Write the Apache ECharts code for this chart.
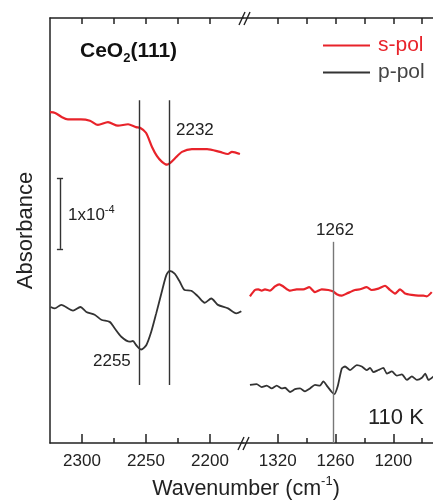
<!DOCTYPE html>
<html><head><meta charset="utf-8">
<script src="https://cdn.jsdelivr.net/npm/echarts@6/dist/echarts.min.js"></script>
<style>html,body{margin:0;padding:0;background:#fff}#c{width:433px;height:502px}</style>
</head><body><div id="c"></div>
<script>
// ---- data (absorbance in units of 1e-4, arbitrary offset) ----
const sPolHighW = [2325,2321,2315.6,2311,2300.8,2293.8,2287.5,2279.7,2271.9,2264,2257.8,2254.7,2250,2245.3,2241.4,2237.5,2233.6,2231.3,2227.3,2221.9,2214.1,2202.3,2192.2,2186,2182.8,2176.6];
const sPolHighA = [4.67,4.66,4.60,4.57,4.57,4.55,4.49,4.53,4.48,4.50,4.46,4.45,4.38,4.18,4.05,3.97,3.93,3.95,4.02,4.11,4.15,4.15,4.11,4.08,4.11,4.08];
const pPolHighW = [2324.5,2321.3,2316.2,2307,2301.3,2296.6,2290.1,2284.9,2278.4,2274.5,2269.3,2262.7,2260.2,2257.6,2253.7,2249.8,2245.9,2242,2238,2234.1,2231.5,2227.6,2223.7,2219.8,2214.6,2209.4,2204.1,2199,2193.8,2185.9,2179.5,2175.5];
const pPolHighA = [1.92,1.90,1.95,1.87,1.92,1.85,1.81,1.74,1.71,1.62,1.50,1.43,1.44,1.38,1.32,1.38,1.57,1.83,2.11,2.37,2.43,2.39,2.28,2.16,2.15,2.07,1.98,2.04,1.95,1.90,1.83,1.86];
const sPolLowW = [1348.8,1343.6,1340.1,1336.6,1333.2,1328,1322.8,1318.3,1314.2,1307.2,1300.3,1293.4,1287.2,1281.3,1274.3,1267.5,1262.3,1258.7,1253.5,1248.3,1239.7,1234.5,1227.6,1222.4,1215.5,1208.6,1203.4,1198.2,1193,1187.8,1180.9,1174,1168.8,1165.3,1160.1];
const sPolLowA = [2.07,2.16,2.17,2.15,2.17,2.15,2.21,2.24,2.21,2.15,2.17,2.17,2.20,2.13,2.17,2.16,2.14,2.10,2.08,2.11,2.16,2.17,2.20,2.16,2.18,2.22,2.16,2.11,2.17,2.11,2.09,2.08,2.08,2.07,2.13];
const pPolLowW = [1348.8,1341.8,1336.6,1331.4,1326.2,1321,1315.8,1312.4,1307.2,1302,1296.8,1291.6,1286.5,1281.3,1276.1,1272.6,1268.5,1263.9,1261.2,1257.7,1253.5,1250.1,1244.9,1237.9,1232.7,1227.6,1224.1,1220.6,1215.5,1210.3,1206.7,1201.5,1196.3,1191.1,1185.9,1180.7,1175.5,1170.3,1166.9,1163.4,1158.2];
const pPolLowA = [0.82,0.83,0.79,0.81,0.77,0.81,0.77,0.78,0.72,0.76,0.77,0.73,0.77,0.82,0.81,0.87,0.80,0.72,0.69,0.80,1.05,1.08,1.03,1.10,1.08,1.03,1.06,1.00,1.03,1.06,0.98,1.01,0.95,0.97,0.89,0.94,0.89,0.92,0.98,0.89,0.94];
const peakLinesHigh = [2255, 2232];
const peakLineLow = 1262;
const ticksHighMajor = [2300, 2250, 2200];
const ticksHighMinor = [2275, 2225];
const ticksLowMajor = [1320, 1260, 1200];
const ticksLowMinor = [1290, 1230, 1170];
const seriesNames = ['s-pol', 'p-pol'];

const pair = (w, a) => w.map((v, i) => [v, a[i]]);
const RED = '#e8232a', DARK = '#333333', AX = '#222222';
const FF = '"Liberation Sans", Arial, sans-serif';

function bottomAxis(grid, min, max, major) {
  return { gridIndex: grid, type: 'value', position: 'bottom', inverse: true, min, max,
    axisLine: { show: true, lineStyle: { color: AX, width: 1.5 } },
    axisTick: { show: true, inside: true, length: 9, customValues: major, lineStyle: { color: AX, width: 1.5 } },
    axisLabel: { show: true, customValues: major, margin: 10, fontSize: 17, color: '#222', fontFamily: FF,
      formatter: v => String(v) },
    splitLine: { show: false } };
}
function minorAxis(grid, min, max, minor) {
  return { gridIndex: grid, type: 'value', position: 'bottom', inverse: true, min, max,
    axisLine: { show: false },
    axisTick: { show: true, inside: true, length: 5, customValues: minor, lineStyle: { color: AX, width: 1.5 } },
    axisLabel: { show: false }, splitLine: { show: false } };
}
function topAxis(grid, min, max, all) {
  return { gridIndex: grid, type: 'value', position: 'top', inverse: true, min, max,
    axisLine: { show: true, lineStyle: { color: AX, width: 1.5 } },
    axisTick: { show: true, inside: true, length: 6, customValues: all, lineStyle: { color: AX, width: 1.5 } },
    axisLabel: { show: false }, splitLine: { show: false } };
}
const hMin = 2174.2, hMax = 2325, lMin = 1158.8, lMax = 1356;
const allHigh = ticksHighMajor.concat(ticksHighMinor).sort();
const allLow = ticksLowMajor.concat(ticksLowMinor).sort();

const chart = echarts.init(document.getElementById('c'), null, { renderer: 'canvas' });
const vline = (x, y0, y1) => [{ coord: [x, y0] }, { coord: [x, y1] }];
chart.setOption({
  animation: false,
  textStyle: { fontFamily: FF },
  grid: [
    { left: 50, top: 18, width: 193, height: 425 },
    { left: 243, top: 18, width: 190, height: 425 }
  ],
  xAxis: [
    bottomAxis(0, hMin, hMax, ticksHighMajor),
    minorAxis(0, hMin, hMax, ticksHighMinor),
    topAxis(0, hMin, hMax, allHigh),
    bottomAxis(1, lMin, lMax, ticksLowMajor),
    minorAxis(1, lMin, lMax, ticksLowMinor),
    topAxis(1, lMin, lMax, allLow)
  ],
  yAxis: [
    { gridIndex: 0, type: 'value', min: 0, max: 6,
      axisLine: { show: true, lineStyle: { color: AX, width: 1.5 } },
      axisTick: { show: false }, axisLabel: { show: false }, splitLine: { show: false },
      name: 'Absorbance', nameLocation: 'middle', nameGap: 13,
      nameTextStyle: { fontSize: 22, color: '#222', fontFamily: FF } },
    { gridIndex: 1, type: 'value', min: 0, max: 6, show: false }
  ],
  legend: {
    orient: 'vertical', left: 323, top: 35, padding: 0, itemGap: 6, itemWidth: 47, itemHeight: 2,
    selectedMode: false, icon: 'rect',
    textStyle: { fontSize: 21, fontFamily: FF, padding: [3, 0, 0, 3] },
    data: [
      { name: seriesNames[0], textStyle: { color: RED } },
      { name: seriesNames[1], textStyle: { color: '#444' } }
    ]
  },
  series: [
    { name: seriesNames[0], type: 'line', xAxisIndex: 0, yAxisIndex: 0, data: pair(sPolHighW, sPolHighA),
      showSymbol: false, smooth: 0.25, color: RED, lineStyle: { color: RED, width: 2.2 } },
    { name: seriesNames[1], type: 'line', xAxisIndex: 0, yAxisIndex: 0, data: pair(pPolHighW, pPolHighA),
      showSymbol: false, smooth: 0.25, color: DARK, lineStyle: { color: DARK, width: 1.8 },
      markLine: { silent: true, symbol: ['none', 'none'], label: { show: false },
        lineStyle: { color: '#333', width: 1.4, type: 'solid' },
        data: [
          vline(peakLinesHigh[0], 0.82, 4.84),
          vline(peakLinesHigh[1], 0.82, 4.84),
          // 1x10^-4 scale bar
          [{ coord: [2317.2, 2.74] }, { coord: [2317.2, 3.74] }],
          [{ coord: [2319.6, 3.74] }, { coord: [2314.8, 3.74] }],
          [{ coord: [2319.6, 2.74] }, { coord: [2314.8, 2.74] }]
        ] } },
    { name: seriesNames[0], type: 'line', xAxisIndex: 3, yAxisIndex: 1, data: pair(sPolLowW, sPolLowA),
      showSymbol: false, smooth: 0.2, color: RED, lineStyle: { color: RED, width: 2.2 } },
    { name: seriesNames[1], type: 'line', xAxisIndex: 3, yAxisIndex: 1, data: pair(pPolLowW, pPolLowA),
      showSymbol: false, smooth: 0.2, color: DARK, lineStyle: { color: DARK, width: 1.8 },
      markLine: { silent: true, symbol: ['none', 'none'], label: { show: false },
        lineStyle: { color: '#777', width: 1.4, type: 'solid' },
        data: [ vline(peakLineLow, 0, 2.84) ] } }
  ],
  graphic: [
    { type: 'text', x: 80, y: 51, style: { text: '{a|CeO}{s|2}{a|(111)}', textVerticalAlign: 'middle', fill: '#111',
        rich: { a: { fontSize: 21, fontWeight: 'bold', fontFamily: FF, lineHeight: 28, fill: '#111' },
                s: { fontSize: 13, fontWeight: 'bold', fontFamily: FF, lineHeight: 14, verticalAlign: 'bottom', fill: '#111' } } } },
    { type: 'text', x: 68, y: 215, style: { text: '{a|1x10}{s|-4}', textVerticalAlign: 'middle',
        rich: { a: { fontSize: 17, fontFamily: FF, lineHeight: 22, fill: '#222' },
                s: { fontSize: 11, fontFamily: FF, lineHeight: 12, verticalAlign: 'top', fill: '#222' } } } },
    { type: 'text', x: 176, y: 130, style: { text: '2232', fontSize: 17, fontFamily: FF, fill: '#222', textVerticalAlign: 'middle' } },
    { type: 'text', x: 93, y: 361, style: { text: '2255', fontSize: 17, fontFamily: FF, fill: '#222', textVerticalAlign: 'middle' } },
    { type: 'text', x: 335, y: 230, style: { text: '1262', fontSize: 17, fontFamily: FF, fill: '#222', textAlign: 'center', textVerticalAlign: 'middle' } },
    { type: 'text', x: 368, y: 418, style: { text: '110 K', fontSize: 22, fontFamily: FF, fill: '#222', textVerticalAlign: 'middle' } },
    { type: 'text', x: 246, y: 489, style: { text: '{a|Wavenumber (cm}{s|-1}{a|)}', textAlign: 'center', textVerticalAlign: 'middle',
        rich: { a: { fontSize: 21.5, fontFamily: FF, lineHeight: 28, fill: '#222' },
                s: { fontSize: 13, fontFamily: FF, lineHeight: 14, verticalAlign: 'top', fill: '#222' } } } },
    // axis break marks
    { type: 'line', shape: { x1: 239, y1: 25, x2: 245, y2: 12 }, style: { stroke: AX, lineWidth: 1.4 } },
    { type: 'line', shape: { x1: 244, y1: 25, x2: 250, y2: 12 }, style: { stroke: AX, lineWidth: 1.4 } },
    { type: 'line', shape: { x1: 238, y1: 450, x2: 244, y2: 437 }, style: { stroke: AX, lineWidth: 1.4 } },
    { type: 'line', shape: { x1: 243, y1: 450, x2: 249, y2: 437 }, style: { stroke: AX, lineWidth: 1.4 } }
  ]
});
</script></body></html>
